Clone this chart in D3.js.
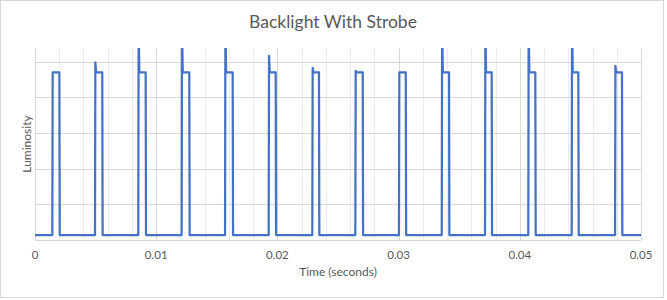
<!DOCTYPE html>
<html>
<head>
<meta charset="utf-8">
<script src="https://cdn.jsdelivr.net/npm/d3@7"></script>
<style>
    body { margin: 0; background: #fff; }
    svg { display: block; font-family: Lato, 'Open Sans', sans-serif; }
    .grid line { stroke: #d9d9d9; stroke-width: 1; }
    .grid .minor { stroke: #ececec; }
    .tickLabel { fill: #595959; font-size: 11.5px; }
</style>
</head>
<body>
<script>
// Chart data
let title = 'Backlight With Strobe',
    xTitle = 'Time (seconds)',
    yTitle = 'Luminosity',
    xTicks = [0, 0.01, 0.02, 0.03, 0.04, 0.05],
    yTicks = [0, 50, 100, 150, 200, 250],
    baseLevel = 7,
    plateauLevel = 235;

// Each strobe pulse: when it switches on, its overshoot peak, when it switches off
let riseTimes = [0.00143, 0.00495, 0.00852, 0.01210, 0.01568, 0.01928, 0.02288,
                 0.02643, 0.03003, 0.03356, 0.03713, 0.04070, 0.04428, 0.04786],
    peakValues = [235, 249, 300, 300, 300, 258, 241, 237, 235, 300, 300, 300, 300, 244],
    fallTimes = [0.00201, 0.00555, 0.00913, 0.01273, 0.01631, 0.01986, 0.02343,
                 0.02704, 0.03059, 0.03416, 0.03768, 0.04128, 0.04483, 0.04843];

let width = 667, height = 300,
    margin = { left: 35, right: 26, top: 48, bottom: 60 },
    edge = 0.00003;

let svg = d3.select('body').append('svg')
    .attr('width', width)
    .attr('height', height);

// Outer chart frame
svg.append('rect')
    .attr('x', 0.5).attr('y', 0.5)
    .attr('width', width - 4).attr('height', height - 3)
    .attr('fill', '#fff')
    .attr('stroke', '#d9d9d9');

let x = d3.scaleLinear()
    .domain([0, 0.05])
    .range([margin.left, width - margin.right]);

let y = d3.scaleLinear()
    .domain([0, 269])
    .range([height - margin.bottom, margin.top]);

// Gridlines
let grid = svg.append('g').attr('class', 'grid');
let minorTicks = d3.range(0, 51, 2).map((d) => d / 1000);

grid.selectAll('.minor')
    .data(minorTicks.filter((d) => Math.round(d * 1000) % 10 !== 0))
    .enter().append('line')
    .attr('class', 'minor')
    .attr('x1', (d) => Math.round(x(d)) + 0.5)
    .attr('x2', (d) => Math.round(x(d)) + 0.5)
    .attr('y1', y.range()[1])
    .attr('y2', y.range()[0]);

grid.selectAll('.major')
    .data(xTicks)
    .enter().append('line')
    .attr('class', 'major')
    .attr('x1', (d) => Math.round(x(d)) + 0.5)
    .attr('x2', (d) => Math.round(x(d)) + 0.5)
    .attr('y1', y.range()[1])
    .attr('y2', y.range()[0]);

grid.selectAll('.hline')
    .data(yTicks)
    .enter().append('line')
    .attr('class', 'hline')
    .attr('x1', x.range()[0])
    .attr('x2', x.range()[1])
    .attr('y1', (d) => Math.round(y(d)) + 0.5)
    .attr('y2', (d) => Math.round(y(d)) + 0.5);

// Bottom axis labels
svg.append('g')
    .selectAll('text')
    .data(xTicks)
    .enter().append('text')
    .attr('class', 'tickLabel')
    .attr('x', (d) => x(d))
    .attr('y', height - margin.bottom + 19)
    .attr('text-anchor', 'middle')
    .text((d) => d === 0 ? '0' : d3.format('.2f')(d));

// Build the waveform from the pulse arrays
let points = [[0, baseLevel]];
riseTimes.forEach((t, i) => {
    points.push([t, baseLevel]);
    points.push([t + edge, peakValues[i]]);
    points.push([t + edge * 3, plateauLevel]);
    points.push([fallTimes[i], plateauLevel]);
    points.push([fallTimes[i] + edge, baseLevel]);
});
points.push([0.05, baseLevel]);

svg.append('clipPath')
    .attr('id', 'plotClip')
    .append('rect')
    .attr('x', x.range()[0] - 2)
    .attr('y', y.range()[1])
    .attr('width', x.range()[1] - x.range()[0] + 4)
    .attr('height', y.range()[0] - y.range()[1] + 2);

svg.append('path')
    .datum(points)
    .attr('clip-path', 'url(#plotClip)')
    .attr('fill', 'none')
    .attr('stroke', '#4472c4')
    .attr('stroke-width', 2.25)
    .attr('stroke-linejoin', 'round')
    .attr('d', d3.line()
        .x((d) => x(d[0]))
        .y((d) => y(d[1])));

// Titles
svg.append('text')
    .attr('x', 333)
    .attr('y', 28)
    .attr('text-anchor', 'middle')
    .attr('fill', '#595959')
    .style('font-size', '17.5px')
    .text(title);

svg.append('text')
    .attr('x', (x.range()[0] + x.range()[1]) / 2)
    .attr('y', 276)
    .attr('text-anchor', 'middle')
    .attr('fill', '#595959')
    .style('font-size', '12px')
    .text(xTitle);

svg.append('text')
    .attr('transform', 'translate(31,' + ((y.range()[0] + y.range()[1]) / 2) + ') rotate(-90)')
    .attr('text-anchor', 'middle')
    .attr('fill', '#595959')
    .style('font-size', '12px')
    .text(yTitle);
</script>
</body>
</html>
